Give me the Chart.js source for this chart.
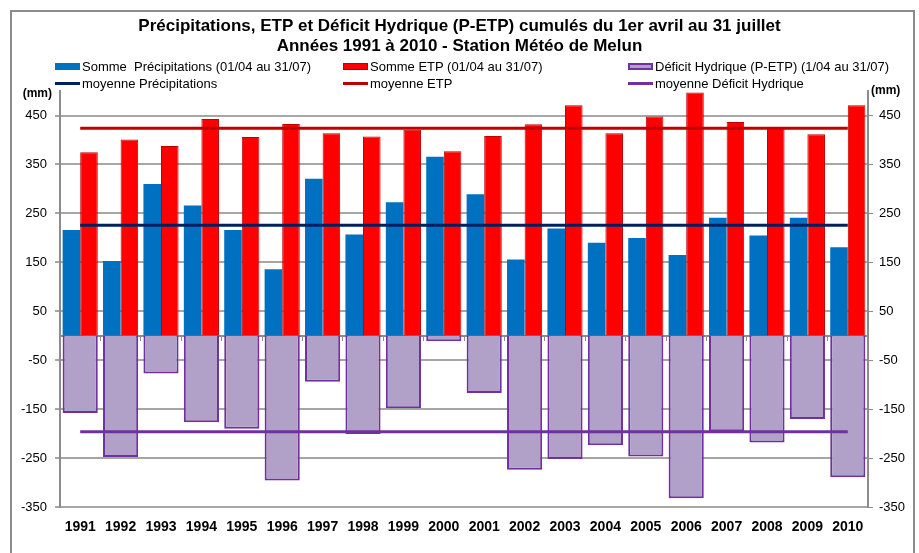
<!DOCTYPE html>
<html>
<head>
<meta charset="utf-8">
<script src="https://cdn.jsdelivr.net/npm/chart.js@4.4.1/dist/chart.umd.min.js"></script>
<style>
  html, body { margin: 0; padding: 0; overflow: hidden; background: #fff; }
  body { font-family: 'Liberation Sans', Arial, sans-serif; }
  #frame { position: absolute; left: 10px; top: 10px; width: 901px; height: 600px; border: 2px solid #8c8c8c; }
  #chart { position: absolute; left: 0; top: 0; }
  #legend { position: absolute; left: 55px; top: 58px; display: grid; grid-template-columns: 288px 285px 270px; }
  #legend .item { display: flex; align-items: center; height: 17px; font-size: 13px; color: #000; white-space: pre; }
  #legend .sw { display: inline-block; width: 25px; margin-right: 2px; box-sizing: border-box; }
</style>
</head>
<body>
<div id="frame"></div>
<canvas id="chart" width="919" height="553"></canvas>
<div id="legend"></div>
<script>
// years on the x axis
const years = ['1991', '1992', '1993', '1994', '1995', '1996', '1997', '1998', '1999', '2000',
               '2001', '2002', '2003', '2004', '2005', '2006', '2007', '2008', '2009', '2010'];

// cumulated 1 April - 31 July (mm)
const precip  = [216, 153, 310, 266, 216, 136, 321, 207, 273, 366, 289, 156, 219, 190, 200, 165, 241, 205, 241, 181];
const etp     = [375, 401, 388, 443, 406, 433, 414, 407, 421, 377, 408, 432, 471, 414, 448, 497, 437, 423, 412, 471];
const deficit = [-158, -248, -77, -177, -190, -296, -94, -201, -148, -11, -117, -274, -252, -224, -247, -332, -195, -218, -170, -289];

// averages over the period
const meanPrecip = 226;
const meanEtp = 424;
const meanDeficit = -196;

const yTicks = [-350, -250, -150, -50, 50, 150, 250, 350, 450];
const titleLines = ['Précipitations, ETP et Déficit Hydrique (P-ETP) cumulés du 1er avril au 31 juillet',
                    'Années 1991 à 2010 - Station Météo de Melun'];
const unitLabel = '(mm)';

const FONT = "'Liberation Sans', Arial, sans-serif";
Chart.defaults.font.family = FONT;

// "(mm)" above both value axes
const mmLabels = {
  id: 'mmLabels',
  afterDraw(chart) {
    const { ctx, chartArea } = chart;
    ctx.save();
    ctx.font = 'bold 12px ' + FONT;
    ctx.fillStyle = '#000';
    ctx.textBaseline = 'middle';
    ctx.textAlign = 'right';
    ctx.fillText(unitLabel, chartArea.left - 8, chartArea.top + 3);
    ctx.textAlign = 'left';
    ctx.fillText(unitLabel, chartArea.right + 3, chartArea.top);
    ctx.restore();
  }
};

function meanLine(value) {
  return [{ x: years[0], y: value }, { x: years[years.length - 1], y: value }];
}

const chart = new Chart(document.getElementById('chart'), {
  type: 'bar',
  data: {
    labels: years,
    datasets: [
      {
        label: 'Somme  Précipitations (01/04 au 31/07)',
        data: precip,
        backgroundColor: '#0070C0',
        stack: 'p',
        categoryPercentage: 0.87,
        barPercentage: 1,
        order: 2
      },
      {
        label: 'Somme ETP (01/04 au 31/07)',
        data: etp,
        backgroundColor: '#FF0000',
        borderColor: '#C00000',
        borderWidth: 1,
        stack: 'e',
        categoryPercentage: 0.87,
        barPercentage: 1,
        order: 2
      },
      {
        // spans the whole category, under both bars
        label: 'Déficit Hydrique (P-ETP) (1/04 au 31/07)',
        data: deficit,
        backgroundColor: '#B1A0C7',
        borderColor: '#7030A0',
        borderWidth: 2,
        grouped: false,
        stack: 'd',
        categoryPercentage: 0.87,
        barPercentage: 1,
        order: 2
      },
      {
        type: 'line',
        label: 'moyenne Précipitations',
        data: meanLine(meanPrecip),
        borderColor: '#002060',
        backgroundColor: '#002060',
        borderWidth: 3,
        pointRadius: 0,
        order: 0
      },
      {
        type: 'line',
        label: 'moyenne ETP',
        data: meanLine(meanEtp),
        borderColor: '#C00000',
        backgroundColor: '#C00000',
        borderWidth: 3,
        pointRadius: 0,
        order: 0
      },
      {
        type: 'line',
        label: 'moyenne Déficit Hydrique',
        data: meanLine(meanDeficit),
        borderColor: '#7030A0',
        backgroundColor: '#7030A0',
        borderWidth: 3,
        pointRadius: 0,
        order: 0
      }
    ]
  },
  options: {
    responsive: false,
    animation: false,
    layout: { padding: 0 },
    plugins: {
      legend: { display: false },
      tooltip: { enabled: false },
      title: {
        display: true,
        text: titleLines,
        color: '#000',
        font: { size: 17, weight: 'bold', lineHeight: 1.15 },
        padding: { top: 17, bottom: 35 }
      }
    },
    scales: {
      x: {
        type: 'category',
        offset: true,
        grid: { display: false, drawTicks: false },
        border: { display: false },
        ticks: { color: '#000', font: { size: 14, weight: 'bold' }, padding: 12, maxRotation: 0, autoSkip: false },
        afterFit(scale) { scale.height = 46; }
      },
      // zero line with small category marks
      x2: {
        type: 'category',
        offset: true,
        position: { y: 0 },
        grid: { offset: true, drawOnChartArea: false, tickLength: 4, color: '#8c8c8c' },
        border: { color: '#8c8c8c', width: 2 },
        ticks: { display: false }
      },
      y: {
        position: 'left',
        min: -350,
        max: 500,
        afterBuildTicks(scale) { scale.ticks = yTicks.map(v => ({ value: v })); },
        grid: { color: '#a6a6a6', lineWidth: 2, tickLength: 5 },
        border: { color: '#8c8c8c', width: 2 },
        ticks: { color: '#000', font: { size: 13 }, padding: 8 },
        afterFit(scale) { scale.width = 60; }
      },
      y2: {
        position: 'right',
        min: -350,
        max: 500,
        afterBuildTicks(scale) { scale.ticks = yTicks.map(v => ({ value: v })); },
        grid: { drawOnChartArea: false, color: '#8c8c8c', tickLength: 5 },
        border: { color: '#8c8c8c', width: 2 },
        ticks: { color: '#000', font: { size: 13 }, padding: 6 },
        afterFit(scale) { scale.width = 51; }
      }
    }
  },
  plugins: [mmLabels]
});

// legend in three columns, built from the datasets
const legendEl = document.getElementById('legend');
chart.data.datasets.forEach(ds => {
  const item = document.createElement('div');
  item.className = 'item';
  const sw = document.createElement('span');
  sw.className = 'sw';
  if (ds.type === 'line') {
    sw.style.height = '3px';
    sw.style.background = ds.borderColor;
  } else {
    sw.style.height = '7px';
    sw.style.background = ds.backgroundColor;
    if (ds.borderWidth) sw.style.border = ds.borderWidth + 'px solid ' + ds.borderColor;
  }
  item.appendChild(sw);
  item.appendChild(document.createTextNode(ds.label));
  legendEl.appendChild(item);
});
</script>
</body>
</html>
